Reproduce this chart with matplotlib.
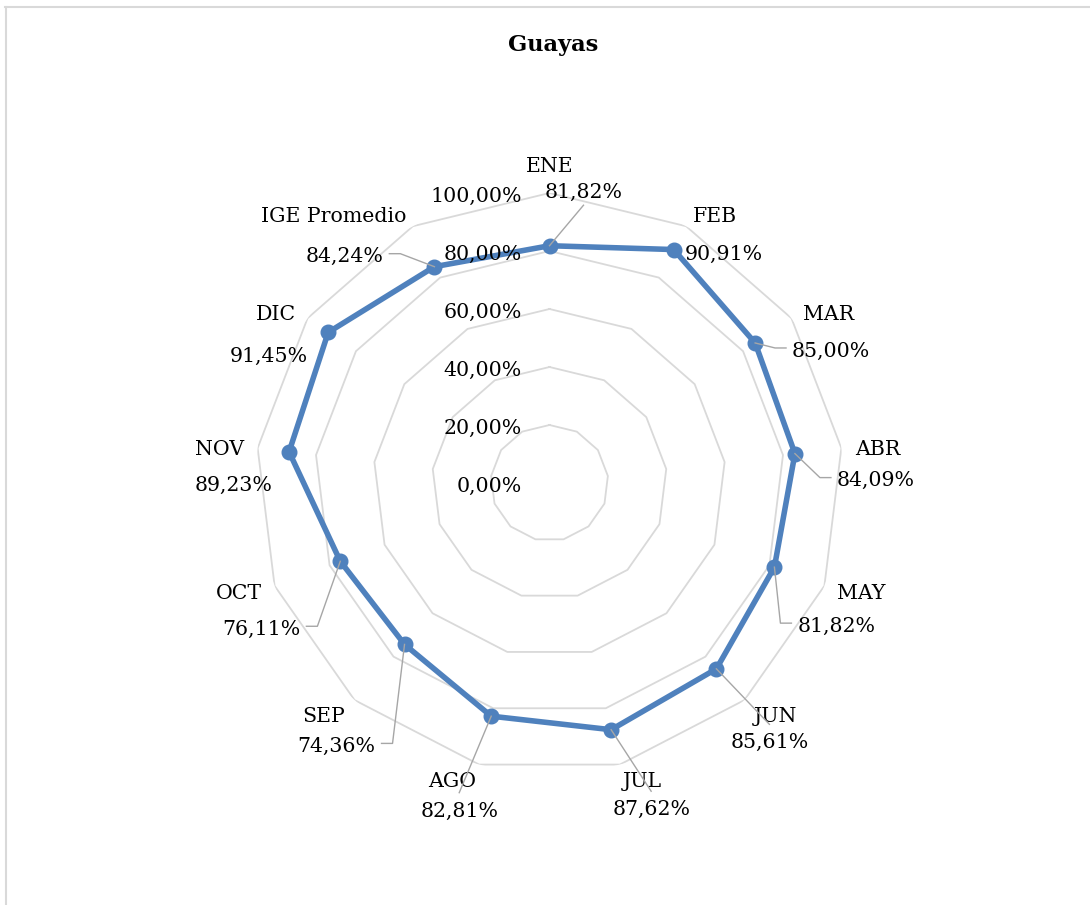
import numpy as np
import matplotlib
matplotlib.use("Agg")
import matplotlib.pyplot as plt
from matplotlib.lines import Line2D

# ---- data ----
categories = ["ENE", "FEB", "MAR", "ABR", "MAY", "JUN", "JUL", "AGO", "SEP",
              "OCT", "NOV", "DIC", "IGE Promedio"]
values = [81.82, 90.91, 85.00, 84.09, 81.82, 85.61, 87.62, 82.81, 74.36,
          76.11, 89.23, 91.45, 84.24]
tick_values = [0, 20, 40, 60, 80, 100]
title = "Guayas"

# ---- label placement (pixel offsets of value labels from their points) ----
label_offsets = [(34, 53), (50, -5), (76, -8), (81, -27), (62, -59), (53, -74),
                 (40, -80), (-32, -95), (-68, -102), (-79, -68), (-56, -34),
                 (-59, -24), (-90, 10)]
leader_side = ["b", None, "l", "l", "l", "t", "t", "t", "r", "r", None, None, "r"]

W, H, DPI = 1090, 905, 100
FONT = "DejaVu Serif"
FS = 14.8
BLUE = "#4F81BD"
GRID = "#D9D9D9"
LEAD = "#A6A6A6"

fig = plt.figure(figsize=(W / DPI, H / DPI), dpi=DPI)
fig.patch.set_facecolor("white")

cx, cy, rx, ry = 549.5, 483.0, 294.0, 290.0
ax = fig.add_axes([(cx - rx) / W, (H - cy - ry) / H, 2 * rx / W, 2 * ry / H],
                  projection="polar")
ax.set_aspect("auto")
ax.set_theta_zero_location("N")
ax.set_theta_direction(-1)
ax.set_ylim(0, 1)
ax.grid(False)
ax.set_xticks([])
ax.set_yticks([])
ax.spines["polar"].set_visible(False)
ax.patch.set_alpha(0)

n = len(categories)
theta = np.arange(n) * 2 * np.pi / n
theta_c = np.append(theta, theta[0])

# polygon grid
for t in tick_values[1:]:
    ax.plot(theta_c, [t / 100] * (n + 1), color=GRID, lw=1.3, zorder=1)

# series
r = np.array(values) / 100
ax.plot(theta_c, np.append(r, r[0]), color=BLUE, lw=4.0, zorder=3,
        solid_joinstyle="round")
ax.plot(theta, r, "o", color=BLUE, ms=10.5, zorder=4)

# radial tick labels
for t in tick_values:
    ax.annotate(f"{t:.2f}".replace(".", ",") + "%", xy=(0, t / 100),
                xytext=(-27.5, -3), textcoords="offset pixels",
                ha="right", va="center", fontsize=FS, family=FONT,
                color="black", zorder=6)

# category labels
for th, cat in zip(theta, categories):
    s, c = np.sin(th), np.cos(th)
    ha = "left" if s > 0.1 else ("right" if s < -0.1 else "center")
    if c > 0.7:
        va = "bottom"
        dy = 17 if abs(s) < 0.1 else 0
    elif c < -0.7:
        va = "top"
        dy = -7
    else:
        va = "center"
        dy = 12 * c - 3
    dx = 14 * s
    ax.annotate(cat, xy=(th, 1.0), xytext=(dx, dy), textcoords="offset pixels",
                ha=ha, va=va, fontsize=FS, family=FONT, color="black")

# value labels
vtexts = []
for th, v, off in zip(theta, values, label_offsets):
    txt = ax.annotate(f"{v:.2f}".replace(".", ",") + "%", xy=(th, v / 100),
                      xytext=off, textcoords="offset pixels",
                      ha="center", va="center", fontsize=FS, family=FONT,
                      color="black", zorder=6)
    vtexts.append(txt)

# title
fig.text(553 / W, 1 - 45 / H, title, ha="center", va="center",
         fontsize=16.2, family=FONT, fontweight="bold", color="black")

# chart frame (top and left edges visible)
fig.add_artist(Line2D([5 / W, 1.0], [1 - 7 / H, 1 - 7 / H],
                      transform=fig.transFigure, color=GRID, lw=1.5))
fig.add_artist(Line2D([6 / W, 6 / W], [0, 1 - 7 / H],
                      transform=fig.transFigure, color=GRID, lw=1.5))

# leader lines
fig.canvas.draw()
renderer = fig.canvas.get_renderer()
inv = fig.transFigure.inverted()
for th, v, txt, side in zip(theta, values, vtexts, leader_side):
    if side is None:
        continue
    px, py = ax.transData.transform((th, v / 100))
    bb = txt.get_window_extent(renderer)
    mx = (bb.x0 + bb.x1) / 2
    my = (bb.y0 + bb.y1) / 2 + 3
    if side == "l":
        ax_, ay_ = bb.x0 - 6, my
        pts = [(px, py), (ax_ - 11, ay_), (ax_, ay_)]
    elif side == "r":
        ax_, ay_ = bb.x1 + 6, my
        pts = [(px, py), (ax_ + 11, ay_), (ax_, ay_)]
    elif side == "t":
        pts = [(px, py), (mx, bb.y1 + 9)]
    else:
        pts = [(px, py), (mx, bb.y0 - 3)]
    fp = inv.transform(pts)
    fig.add_artist(Line2D(fp[:, 0], fp[:, 1], transform=fig.transFigure,
                          color=LEAD, lw=1.0, zorder=5))

fig.savefig("out.png", dpi=DPI, facecolor="white")
